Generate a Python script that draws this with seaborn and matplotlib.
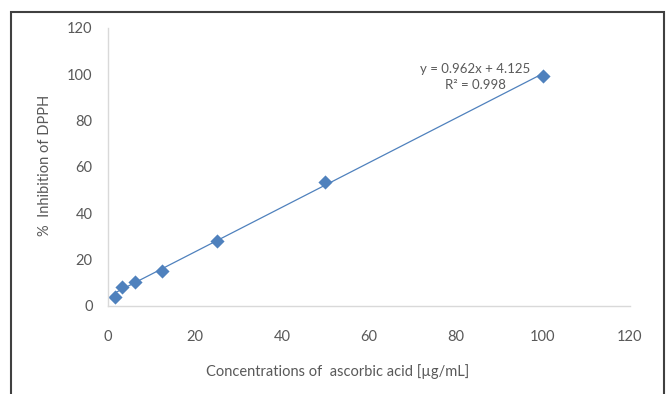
import numpy as np
import pandas as pd
import seaborn as sns
import matplotlib.pyplot as plt
from matplotlib.patches import Rectangle

# Data
concentration = [1.5625, 3.125, 6.25, 12.5, 25, 50, 100]
inhibition = [3.9, 8.2, 10.3, 15.0, 28.0, 53.7, 99.4]
slope = 0.962
intercept = 4.125
equation = "y = 0.962x + 4.125"
r_squared = "R² = 0.998"

df = pd.DataFrame({"conc": concentration, "inhib": inhibition})

sns.set_style("white")
plt.rcParams['font.family'] = ['Lato', 'DejaVu Sans']

text_color = "#595959"
blue = "#4F81BD"

fig = plt.figure(figsize=(6.68, 3.94), dpi=100)
ax = fig.add_axes([0.1617, 0.2234, 0.7813, 0.7056])

# Trendline from the fitted coefficients
x_line = np.array([min(concentration), max(concentration)])
ax.plot(x_line, slope * x_line + intercept, color=blue, lw=0.9, zorder=1)

sns.scatterplot(data=df, x="conc", y="inhib", marker="D", s=52,
                color=blue, edgecolor=blue, linewidth=0, ax=ax, zorder=2)

ax.set_xlim(0, 120)
ax.set_ylim(0, 120)
ax.set_xticks(range(0, 121, 20))
ax.set_yticks(range(0, 121, 20))
ax.tick_params(axis="x", length=0, labelsize=10.5, labelcolor=text_color, pad=17)
ax.tick_params(axis="y", length=0, labelsize=10.5, labelcolor=text_color, pad=11)

for side in ["top", "right"]:
    ax.spines[side].set_visible(False)
for side in ["left", "bottom"]:
    ax.spines[side].set_color("#D9D9D9")
    ax.spines[side].set_linewidth(1)

ax.set_xlabel("Concentrations of  ascorbic acid [µg/mL]", fontsize=10.5, color=text_color)
ax.set_ylabel("%  Inhibition of DPPH", fontsize=10.5, color=text_color)
ax.xaxis.set_label_coords(0.4406, -0.237)
ax.yaxis.set_label_coords(-0.1207, 0.507)
ax.xaxis.label.set_va("center")
ax.yaxis.label.set_va("center")

ax.text(84.5, 102.5, equation, fontsize=9.5, color=text_color, ha="center", va="center")
ax.text(84.5, 95.2, r_squared, fontsize=9.5, color=text_color, ha="center", va="center")

# Outer frame
fig.patches.append(Rectangle((0.016, -0.05), 0.9785, 1.019, transform=fig.transFigure,
                             fill=False, edgecolor="#404040", linewidth=1.5))

fig.savefig("out.png", dpi=100)
